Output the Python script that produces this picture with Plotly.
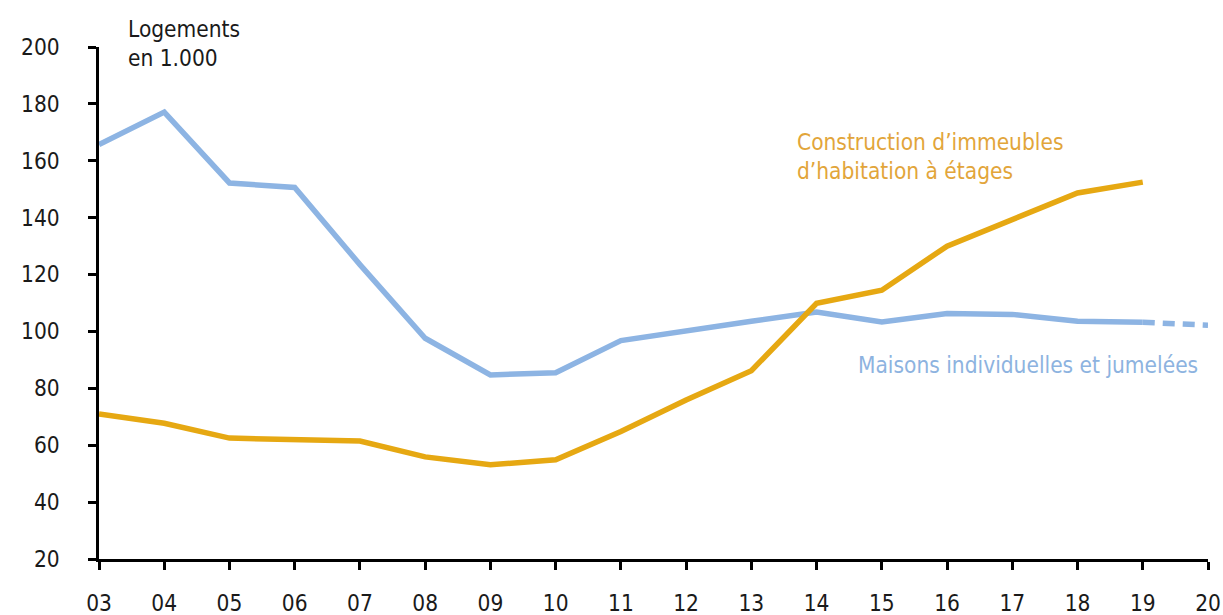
import plotly.graph_objects as go

years = list(range(3, 20))
tick_vals = list(range(3, 21))
tick_text = ["03", "04", "05", "06", "07", "08", "09", "10", "11", "12",
             "13", "14", "15", "16", "17", "18", "19", "20"]
y_ticks = [20, 40, 60, 80, 100, 120, 140, 160, 180, 200]

immeubles = [71.0, 67.7, 62.5, 62.0, 61.5, 55.9, 53.1, 54.9, 64.8, 75.9,
             86.2, 109.9, 114.5, 130.0, 139.5, 148.7, 152.5]
maisons = [165.7, 177.1, 152.2, 150.6, 123.5, 97.6, 84.7, 85.5, 96.8, 100.3,
           103.6, 106.8, 103.3, 106.3, 106.0, 103.6, 103.2]
maisons_proj_years = [19, 20]
maisons_proj = [103.2, 102.2]

ORANGE = "#E6A812"
BLUE = "#8DB4E3"
FONT = "DejaVu Sans Condensed, Liberation Sans, Arial, sans-serif"
FS = 22.5

fig = go.Figure()
fig.add_trace(go.Scatter(x=years, y=maisons, mode="lines",
                         line=dict(color=BLUE, width=5.5), showlegend=False))
fig.add_trace(go.Scatter(x=maisons_proj_years, y=maisons_proj, mode="lines",
                         line=dict(color=BLUE, width=5.5, dash="12px,8px"),
                         showlegend=False))
fig.add_trace(go.Scatter(x=years, y=immeubles, mode="lines",
                         line=dict(color=ORANGE, width=5.5), showlegend=False))

fig.update_layout(
    width=1223, height=615,
    margin=dict(l=98.5, r=15, t=46.5, b=55.7, pad=0, autoexpand=False),
    paper_bgcolor="white", plot_bgcolor="white",
    font=dict(family=FONT, size=FS, color="#1a1a1a"),
    xaxis=dict(range=[3, 20], tickmode="array", tickvals=tick_vals,
               ticktext=tick_text, showgrid=False, zeroline=False,
               showline=True, linecolor="black", linewidth=2.5,
               ticks="outside", ticklen=8, tickwidth=2.5, tickcolor="black",
               ticklabelstandoff=14, automargin=False),
    yaxis=dict(range=[20, 200], tickmode="array", tickvals=y_ticks,
               showgrid=False, zeroline=False,
               showline=True, linecolor="black", linewidth=2.5,
               ticks="outside", ticklen=8, tickwidth=2.5, tickcolor="black",
               ticklabelstandoff=24, automargin=False),
    annotations=[
        dict(text="Logements<br>en 1.000", xref="paper", yref="paper",
             x=(126 - 98.5) / (1208 - 98.5), y=1.0,
             xanchor="left", yanchor="bottom", yshift=-26, showarrow=False,
             align="left", font=dict(size=FS, color="#1a1a1a")),
        dict(text="Construction d’immeubles<br>d’habitation à étages",
             x=13.67, y=161.6, xref="x", yref="y", xanchor="left",
             yanchor="middle", showarrow=False, align="left",
             font=dict(size=FS, color="#E2A53A")),
        dict(text="Maisons individuelles et jumelées",
             x=19.88, y=88.2, xref="x", yref="y", xanchor="right",
             yanchor="middle", showarrow=False, align="left",
             font=dict(size=FS, color="#8DB3E0")),
    ],
)

fig.write_html("out.html")
